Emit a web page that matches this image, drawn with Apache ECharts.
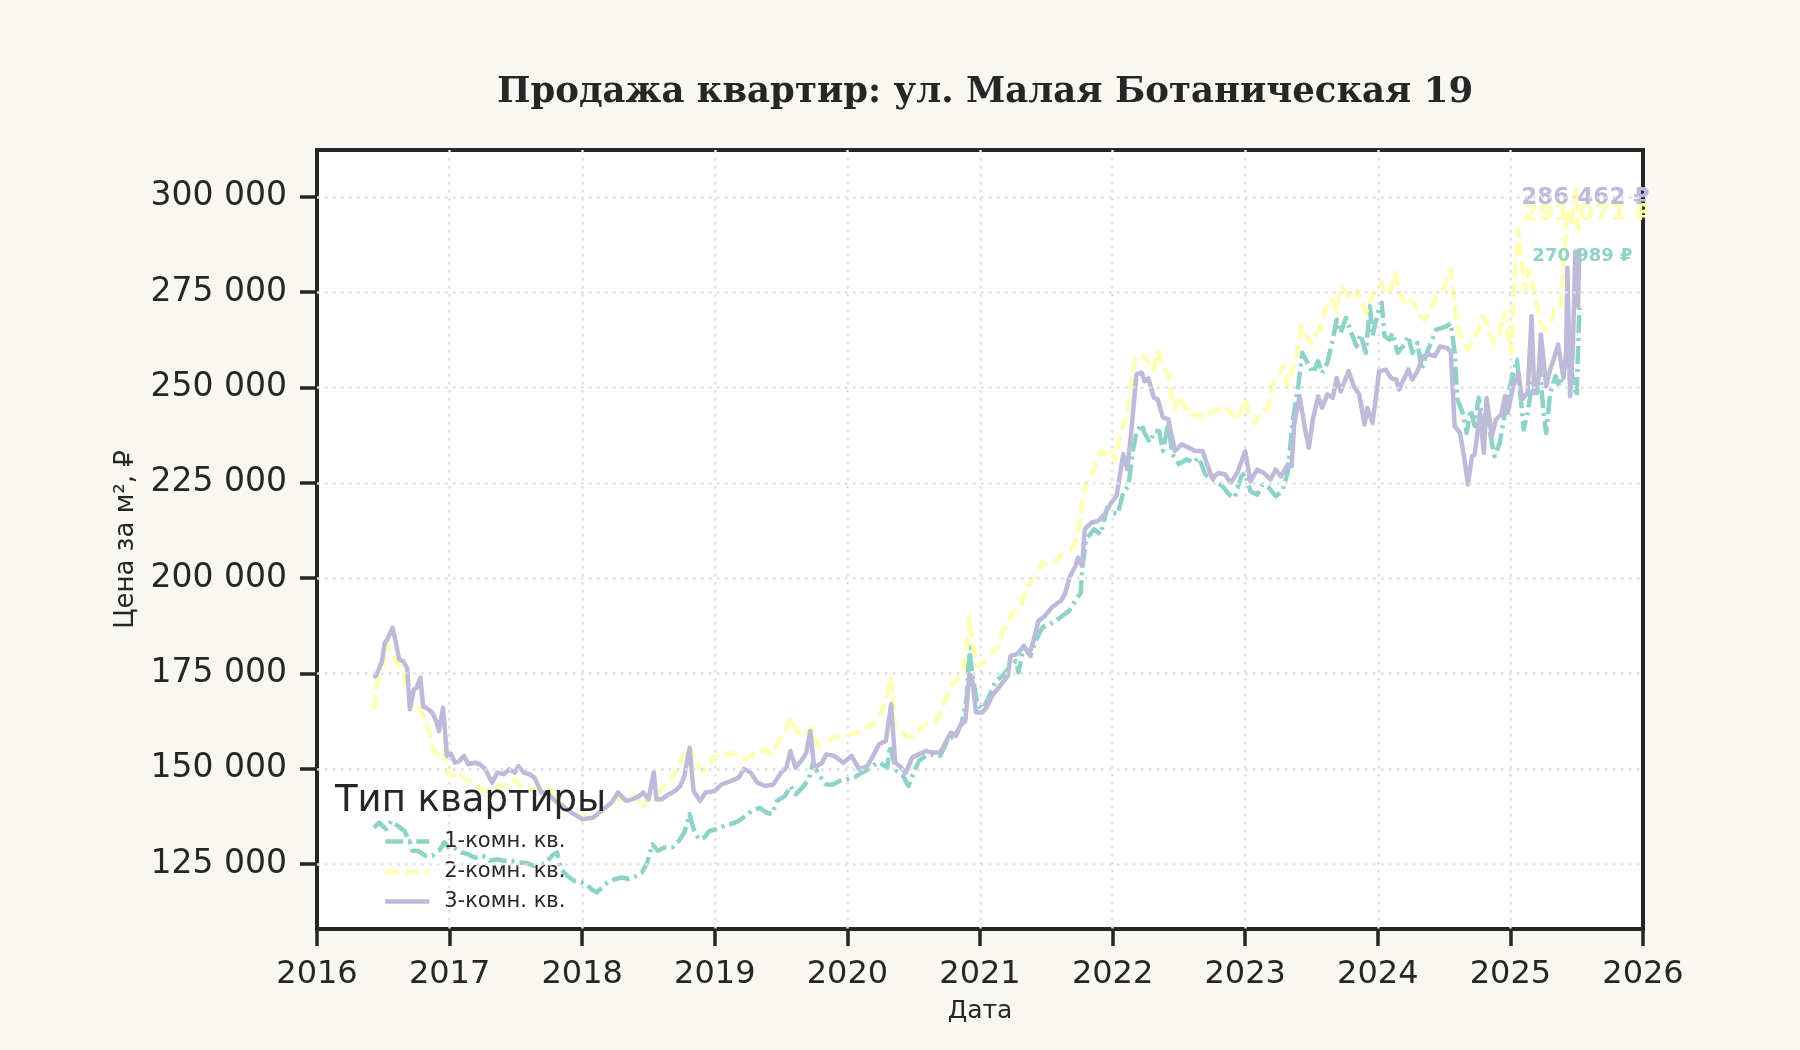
<!DOCTYPE html>
<html>
<head>
<meta charset="utf-8">
<script src="https://cdn.jsdelivr.net/npm/echarts@6/dist/echarts.min.js"></script>
<style>
html, body { margin: 0; background: #f8f7f2; }
#main { width: 1800px; height: 1050px; }
</style>
</head>
<body>
<div id="main"></div>
<script>
// [decimal year, price per m2]
var room1 = [[2016.43,134600],[2016.47,135900],[2016.52,134200],[2016.56,136300],[2016.61,135000],[2016.66,133700],[2016.70,130700],[2016.72,128500],[2016.76,128500],[2016.82,127200],[2016.87,127200],[2016.92,128500],[2016.96,130700],[2016.99,129400],[2017.03,129400],[2017.09,128100],[2017.14,127600],[2017.19,126700],[2017.25,127200],[2017.30,125900],[2017.36,126300],[2017.41,125900],[2017.46,125900],[2017.52,125400],[2017.57,125400],[2017.63,124600],[2017.68,124600],[2017.73,125400],[2017.77,127200],[2017.81,128100],[2017.84,123700],[2017.89,121900],[2017.94,120600],[2017.99,120200],[2018.03,119800],[2018.07,118400],[2018.11,117600],[2018.15,118900],[2018.19,120200],[2018.25,121100],[2018.30,121500],[2018.35,121100],[2018.41,121900],[2018.45,122800],[2018.49,125400],[2018.53,130200],[2018.57,128500],[2018.62,129400],[2018.68,129400],[2018.73,131100],[2018.77,133300],[2018.81,138100],[2018.84,134200],[2018.88,131500],[2018.92,132000],[2018.96,133700],[2019.01,134200],[2019.07,135000],[2019.12,135500],[2019.18,136300],[2019.23,137700],[2019.28,139000],[2019.34,139800],[2019.39,138500],[2019.43,138100],[2019.47,141600],[2019.53,142900],[2019.57,145500],[2019.61,143300],[2019.66,145100],[2019.71,147300],[2019.74,151600],[2019.78,148600],[2019.84,145900],[2019.89,145900],[2019.94,146800],[2020.00,147300],[2020.05,147700],[2020.11,149000],[2020.16,149900],[2020.20,151000],[2020.24,151700],[2020.30,150300],[2020.32,156000],[2020.37,149500],[2020.42,148200],[2020.46,145500],[2020.49,148200],[2020.54,152100],[2020.59,153400],[2020.66,153800],[2020.70,153400],[2020.76,157800],[2020.81,158700],[2020.86,161700],[2020.90,168700],[2020.92,181800],[2020.94,175300],[2020.98,166900],[2021.02,165600],[2021.07,169100],[2021.12,173100],[2021.17,174400],[2021.22,176600],[2021.27,178300],[2021.29,175300],[2021.33,182200],[2021.38,179600],[2021.42,183600],[2021.47,187100],[2021.52,187900],[2021.57,188800],[2021.62,190100],[2021.67,191400],[2021.72,194100],[2021.76,196200],[2021.77,202400],[2021.80,210200],[2021.86,212800],[2021.91,211500],[2021.96,218500],[2022.00,217200],[2022.04,216800],[2022.08,222500],[2022.12,224200],[2022.15,233000],[2022.18,238200],[2022.22,240400],[2022.24,238200],[2022.28,235600],[2022.32,238600],[2022.35,238600],[2022.38,233400],[2022.42,240800],[2022.45,232500],[2022.50,229900],[2022.56,231200],[2022.61,230300],[2022.65,231600],[2022.70,227200],[2022.78,225400],[2022.83,224100],[2022.88,221900],[2022.92,221100],[2022.97,226700],[2023.00,227600],[2023.04,222800],[2023.09,221900],[2023.13,224600],[2023.18,223700],[2023.23,221500],[2023.28,222800],[2023.32,227600],[2023.36,241600],[2023.40,250300],[2023.43,259100],[2023.47,256500],[2023.51,253800],[2023.55,256900],[2023.58,253800],[2023.62,256500],[2023.66,262600],[2023.69,267800],[2023.72,264300],[2023.76,268300],[2023.80,264300],[2023.84,260800],[2023.87,263900],[2023.91,259100],[2023.94,271300],[2023.96,263500],[2024.00,269600],[2024.03,272200],[2024.05,263500],[2024.09,262600],[2024.11,264300],[2024.15,259100],[2024.19,260800],[2024.23,263500],[2024.26,259100],[2024.30,261700],[2024.33,254700],[2024.37,259100],[2024.40,261700],[2024.44,265200],[2024.48,265600],[2024.52,266100],[2024.55,266900],[2024.58,259100],[2024.60,246900],[2024.64,243400],[2024.67,238100],[2024.70,244200],[2024.73,239900],[2024.76,247300],[2024.79,241600],[2024.82,243400],[2024.86,235500],[2024.88,232000],[2024.92,235500],[2024.95,241600],[2024.98,247700],[2025.02,253800],[2025.05,257300],[2025.07,250300],[2025.10,239000],[2025.13,243400],[2025.17,252100],[2025.20,248600],[2025.22,255600],[2025.25,243400],[2025.27,238100],[2025.30,248600],[2025.34,253000],[2025.37,250300],[2025.41,255600],[2025.45,258200],[2025.47,252100],[2025.50,247700],[2025.52,270989]];

var room2 = [[2016.43,165600],[2016.45,172600],[2016.49,175600],[2016.53,182600],[2016.56,180400],[2016.60,177800],[2016.64,176500],[2016.68,171200],[2016.72,166400],[2016.76,166400],[2016.80,164300],[2016.83,161200],[2016.86,157700],[2016.88,154700],[2016.92,153800],[2016.96,155100],[2016.98,149000],[2017.02,148100],[2017.07,149000],[2017.11,147700],[2017.17,146400],[2017.22,145100],[2017.27,144200],[2017.33,144600],[2017.38,145500],[2017.44,145900],[2017.49,147300],[2017.54,145500],[2017.60,144600],[2017.65,144600],[2017.71,145100],[2017.76,144600],[2017.81,142000],[2017.87,139800],[2017.92,138500],[2017.98,137700],[2018.03,137200],[2018.08,137700],[2018.14,138500],[2018.19,140300],[2018.25,142000],[2018.30,142000],[2018.35,142900],[2018.41,142500],[2018.46,139800],[2018.50,142900],[2018.56,143300],[2018.61,145100],[2018.66,146800],[2018.72,149900],[2018.76,153400],[2018.81,156100],[2018.85,151600],[2018.91,149400],[2018.96,151200],[2019.00,153400],[2019.05,152900],[2019.11,154200],[2019.16,153800],[2019.22,152500],[2019.27,153400],[2019.32,153800],[2019.38,155100],[2019.43,153800],[2019.49,157700],[2019.53,159900],[2019.57,163400],[2019.61,160300],[2019.65,158600],[2019.69,159500],[2019.73,160800],[2019.77,156000],[2019.81,156400],[2019.86,157300],[2019.91,158200],[2019.97,158600],[2020.02,159000],[2020.08,159500],[2020.13,160800],[2020.18,161200],[2020.24,163900],[2020.28,166500],[2020.33,174000],[2020.36,160400],[2020.41,159500],[2020.46,158200],[2020.50,158700],[2020.56,160800],[2020.61,162200],[2020.66,162200],[2020.70,164300],[2020.74,168300],[2020.78,171800],[2020.83,173500],[2020.87,176100],[2020.90,181400],[2020.92,189700],[2020.94,184000],[2020.98,177000],[2021.03,177900],[2021.08,180100],[2021.13,181400],[2021.17,185800],[2021.21,188800],[2021.26,191400],[2021.31,192700],[2021.34,196200],[2021.39,199700],[2021.43,201500],[2021.47,204100],[2021.52,203700],[2021.57,204500],[2021.62,206300],[2021.67,207200],[2021.71,208500],[2021.74,212800],[2021.77,219000],[2021.79,224200],[2021.83,226400],[2021.87,229500],[2021.91,233400],[2021.94,232500],[2021.98,233800],[2022.02,231200],[2022.06,238200],[2022.11,243000],[2022.14,250400],[2022.17,257400],[2022.21,258700],[2022.24,257900],[2022.28,256100],[2022.31,254400],[2022.34,259600],[2022.38,255200],[2022.42,253500],[2022.44,248700],[2022.47,244300],[2022.49,247800],[2022.53,246100],[2022.57,243000],[2022.62,242600],[2022.65,242900],[2022.69,242000],[2022.74,243400],[2022.79,244200],[2022.84,245100],[2022.89,243400],[2022.94,241600],[2023.00,246900],[2023.03,242900],[2023.07,240700],[2023.12,243400],[2023.17,244700],[2023.22,252100],[2023.26,253800],[2023.29,255600],[2023.32,250300],[2023.36,254700],[2023.40,260800],[2023.42,266100],[2023.46,263500],[2023.50,261700],[2023.53,263500],[2023.57,266100],[2023.61,270900],[2023.65,273100],[2023.69,270000],[2023.72,276600],[2023.76,275300],[2023.80,273100],[2023.84,275300],[2023.87,273100],[2023.91,269600],[2023.95,273100],[2023.99,275700],[2024.03,277400],[2024.06,274400],[2024.10,275700],[2024.13,280100],[2024.16,275300],[2024.20,272600],[2024.24,274000],[2024.28,271300],[2024.31,269100],[2024.35,267800],[2024.39,269600],[2024.43,273100],[2024.47,274800],[2024.50,276600],[2024.55,280900],[2024.57,274000],[2024.60,266100],[2024.64,262600],[2024.68,260000],[2024.72,262600],[2024.76,265200],[2024.79,268700],[2024.82,267000],[2024.85,263500],[2024.88,261700],[2024.92,264300],[2024.95,269600],[2024.98,264300],[2025.01,259100],[2025.03,278300],[2025.06,291400],[2025.08,284400],[2025.11,275700],[2025.14,280900],[2025.17,276600],[2025.20,271300],[2025.23,267000],[2025.27,265200],[2025.31,267800],[2025.34,271300],[2025.38,271300],[2025.41,287100],[2025.43,296700],[2025.46,292300],[2025.49,301900],[2025.51,292300],[2025.52,291071]];

var room3 = [[2016.43,173900],[2016.45,174700],[2016.49,178200],[2016.51,183000],[2016.53,183900],[2016.57,187000],[2016.59,183900],[2016.62,178700],[2016.65,178200],[2016.68,176500],[2016.70,165600],[2016.73,170800],[2016.75,171200],[2016.78,173900],[2016.80,166400],[2016.84,165600],[2016.87,164700],[2016.90,162500],[2016.92,159900],[2016.95,166000],[2016.96,162100],[2016.98,153400],[2017.01,154000],[2017.04,151600],[2017.07,152000],[2017.11,153400],[2017.14,151200],[2017.19,151600],[2017.23,151200],[2017.27,149900],[2017.32,146400],[2017.36,149000],[2017.41,148600],[2017.45,149900],[2017.49,149000],[2017.52,150700],[2017.56,149000],[2017.60,148600],[2017.64,147700],[2017.67,145500],[2017.69,143800],[2017.73,143800],[2017.80,141500],[2017.86,140000],[2017.92,138500],[2018.00,136800],[2018.08,137200],[2018.16,139400],[2018.22,141100],[2018.27,143800],[2018.33,141600],[2018.38,142000],[2018.43,142900],[2018.46,143800],[2018.50,142000],[2018.54,149200],[2018.56,142000],[2018.60,142000],[2018.65,143300],[2018.70,144200],[2018.74,145500],[2018.77,148100],[2018.81,155500],[2018.84,144200],[2018.89,141600],[2018.93,143800],[2019.00,144200],[2019.05,145900],[2019.12,146800],[2019.18,147700],[2019.22,150000],[2019.27,149000],[2019.32,146400],[2019.38,145500],[2019.44,145900],[2019.50,149000],[2019.54,150300],[2019.57,154700],[2019.61,150300],[2019.66,152500],[2019.69,154200],[2019.72,159900],[2019.75,150300],[2019.81,151600],[2019.84,153800],[2019.90,153400],[2019.97,151600],[2020.03,153400],[2020.09,149900],[2020.15,150700],[2020.20,153800],[2020.24,156500],[2020.29,157300],[2020.33,167000],[2020.36,151700],[2020.39,150800],[2020.44,149000],[2020.49,153000],[2020.54,153800],[2020.59,154700],[2020.64,154300],[2020.70,154300],[2020.74,156900],[2020.78,159500],[2020.82,158700],[2020.85,161300],[2020.89,162600],[2020.92,174800],[2020.94,174000],[2020.97,164800],[2021.02,164800],[2021.05,166100],[2021.09,169100],[2021.14,171300],[2021.21,174400],[2021.23,179600],[2021.28,180100],[2021.33,182200],[2021.37,180100],[2021.40,183100],[2021.44,188800],[2021.49,190100],[2021.54,192300],[2021.61,194100],[2021.64,195800],[2021.68,200600],[2021.72,203200],[2021.74,205400],[2021.77,203200],[2021.79,212800],[2021.84,214600],[2021.89,215000],[2021.94,216800],[2021.99,219800],[2022.03,221600],[2022.05,226000],[2022.08,232500],[2022.11,228600],[2022.14,238200],[2022.18,253500],[2022.22,253900],[2022.24,251700],[2022.27,252400],[2022.31,247400],[2022.34,246900],[2022.38,242100],[2022.42,241700],[2022.44,238200],[2022.47,233400],[2022.52,235100],[2022.57,234300],[2022.62,233400],[2022.68,233300],[2022.70,231100],[2022.75,226300],[2022.80,227600],[2022.85,227200],[2022.89,225000],[2022.94,227600],[2023.00,233300],[2023.04,225400],[2023.09,228500],[2023.14,227600],[2023.19,225900],[2023.23,228500],[2023.27,226700],[2023.32,229800],[2023.35,229400],[2023.37,240700],[2023.41,247700],[2023.45,239400],[2023.48,234200],[2023.51,241600],[2023.55,247700],[2023.58,244700],[2023.62,248200],[2023.66,247300],[2023.69,252500],[2023.72,249000],[2023.78,254300],[2023.82,250300],[2023.86,248200],[2023.90,240300],[2023.92,244700],[2023.96,240700],[2023.99,248600],[2024.01,254300],[2024.06,254700],[2024.10,252500],[2024.14,252100],[2024.16,249500],[2024.19,251700],[2024.23,254700],[2024.26,252100],[2024.30,254300],[2024.34,258200],[2024.39,258700],[2024.43,258200],[2024.47,260800],[2024.52,260400],[2024.55,259500],[2024.58,239900],[2024.62,238100],[2024.65,232000],[2024.68,224600],[2024.71,232000],[2024.73,232400],[2024.77,243400],[2024.80,232900],[2024.82,247300],[2024.86,237200],[2024.89,241600],[2024.93,242900],[2024.96,247700],[2024.98,243400],[2025.02,250300],[2025.06,253800],[2025.09,246900],[2025.13,248600],[2025.16,268700],[2025.18,248600],[2025.21,252100],[2025.23,263900],[2025.27,250300],[2025.30,254700],[2025.33,257800],[2025.36,261300],[2025.40,252500],[2025.42,259100],[2025.43,281400],[2025.45,247700],[2025.47,259100],[2025.49,285700],[2025.51,271300],[2025.52,286462]];

var names = ['1-комн. кв.', '2-комн. кв.', '3-комн. кв.'];
var colors = ['#8dd3c7', '#ffffb3', '#bebada'];
var yTicks = [125000, 150000, 175000, 200000, 225000, 250000, 275000, 300000];

var ink = '#262626';
var fmt = function (v) {
    return String(Math.round(v)).replace(/\B(?=(\d{3})+(?!\d))/g, ' ');
};

var chart = echarts.init(document.getElementById('main'));

function lineSeries(i, data, dash, endLabel) {
    return {
        name: names[i],
        type: 'line',
        data: data,
        showSymbol: false,
        symbol: 'none',
        color: colors[i],
        lineStyle: { width: 4.5, type: dash, join: 'round', cap: 'butt' },
        endLabel: Object.assign({
            show: true,
            formatter: function (p) { return fmt(p.value[1]) + ' ₽'; },
            color: colors[i],
            fontWeight: 'bold',
            fontFamily: 'DejaVu Sans',
            distance: 0,
            align: 'left',
            verticalAlign: 'middle'
        }, endLabel)
    };
}

option = {
    backgroundColor: '#f8f7f2',
    animation: false,
    title: [
        {
            text: 'Продажа квартир: ул. Малая Ботаническая 19',
            left: 980,
            top: 70,
            textAlign: 'center',
            textStyle: { fontFamily: 'DejaVu Serif', fontWeight: 'bold', fontSize: 35.5, color: ink }
        },
        {
            text: 'Тип квартиры',
            left: 330,
            top: 778,
            textStyle: { fontFamily: 'DejaVu Sans', fontWeight: 'normal', fontSize: 37, color: ink }
        }
    ],
    legend: {
        data: names,
        orient: 'vertical',
        left: 378,
        top: 826,
        itemWidth: 44,
        itemHeight: 14,
        itemGap: 9,
        itemStyle: { color: 'rgba(0,0,0,0)', borderWidth: 0, opacity: 0 },
        lineStyle: { width: 4.5 },
        textStyle: { fontFamily: 'DejaVu Sans', fontSize: 21, color: ink, padding: [0, 0, 0, 10] }
    },
    grid: {
        left: 317, right: 157, top: 150, bottom: 121,
        show: true,
        backgroundColor: '#ffffff',
        borderColor: ink,
        borderWidth: 4
    },
    xAxis: {
        type: 'value',
        min: 2016,
        max: 2026,
        interval: 1,
        name: 'Дата',
        nameLocation: 'middle',
        nameGap: 70,
        nameTextStyle: { fontFamily: 'DejaVu Sans', fontSize: 25, color: ink },
        axisLine: { show: false },
        axisTick: { show: true, length: 17, lineStyle: { width: 3.5, color: ink } },
        axisLabel: {
            fontFamily: 'DejaVu Sans', fontSize: 32, color: ink, margin: 30,
            formatter: function (v) { return String(v); }
        },
        splitLine: {
            show: true, showMinLine: false, showMaxLine: false,
            lineStyle: { type: [2.5, 5.5], width: 2.5, color: '#e0e0e0' }
        }
    },
    yAxis: {
        type: 'value',
        min: 108000,
        max: 312300,
        name: 'Цена за м², ₽',
        nameLocation: 'middle',
        nameGap: 176,
        nameTextStyle: { fontFamily: 'DejaVu Sans', fontSize: 26, color: ink },
        axisLine: { show: false },
        axisTick: { show: true, customValues: yTicks, length: 17, lineStyle: { width: 3.5, color: ink } },
        axisLabel: {
            customValues: yTicks,
            fontFamily: 'DejaVu Sans', fontSize: 33, color: ink, margin: 30,
            formatter: fmt
        },
        splitLine: { show: false }
    },
    series: [
        lineSeries(0, room1, [18, 5, 3, 5], { fontSize: 18, offset: [-47, -51] }),
        lineSeries(1, room2, [14, 6], { fontSize: 23, offset: [-57, -17] }),
        lineSeries(2, room3, 'solid', { fontSize: 23, offset: [-58, -50] }),
        {
            // horizontal dotted grid at the labelled ticks
            type: 'line',
            data: [],
            silent: true,
            markLine: {
                silent: true,
                symbol: 'none',
                label: { show: false },
                lineStyle: { type: [2.5, 5.5], width: 2.5, color: '#e0e0e0' },
                data: yTicks.map(function (v) { return { yAxis: v }; })
            },
            z: 1
        }
    ]
};

chart.setOption(option);
</script>
</body>
</html>
